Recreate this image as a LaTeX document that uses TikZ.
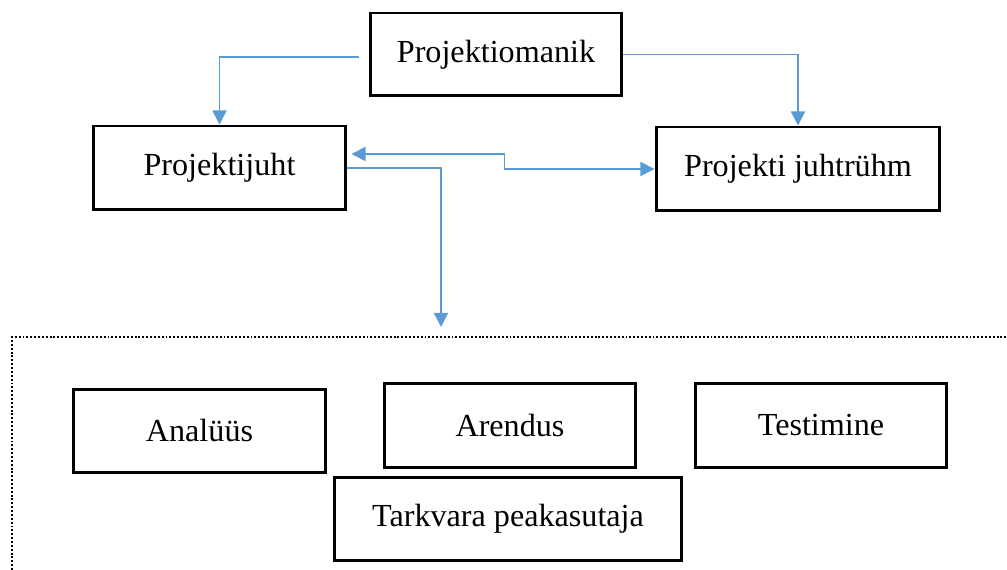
\documentclass[tikz,border=0pt]{standalone}
\usepackage{fontspec}
\setmainfont{Liberation Serif}
\usetikzlibrary{arrows.meta}
\definecolor{linkblue}{HTML}{5B9BD5}
\tikzset{
  role/.style={draw=black, line width=1.7pt, fill=white, align=center,
    font=\fontsize{18.3}{22}\selectfont, inner sep=0pt},
  conn/.style={draw=linkblue, line width=0.9pt,
    -{Triangle[length=8pt,width=8pt]}},
  group/.style={draw=black, line width=1.2pt, dash pattern=on 1.1pt off 1.1pt}
}
\begin{document}
\begin{tikzpicture}[x=0.02cm, y=-0.02cm]
\useasboundingbox (0,0) rectangle (1007,570);

% management level
\node[role, minimum width=5.04cm, minimum height=1.66cm] (pm) at (496,54.5) {Projektiomanik};
\node[role, minimum width=5.06cm, minimum height=1.68cm] (pj) at (219.5,168) {Projektijuht};
\node[role, minimum width=5.68cm, minimum height=1.68cm] (pjr) at (798,169) {Projekti juhtrühm};

% team area
\draw[group] (12,570) -- (12,337) -- (1007,337);
\coordinate (gtop) at (441,327);

\node[role, minimum width=5.06cm, minimum height=1.68cm] (an) at (199.5,431) {Analüüs};
\node[role, minimum width=5.04cm, minimum height=1.70cm] (ar) at (510,425.5) {Arendus};
\node[role, minimum width=5.04cm, minimum height=1.70cm] (te) at (821,425.5) {Testimine};
\node[role, minimum width=6.96cm, minimum height=1.68cm] (tp) at (508,519) {Tarkvara peakasutaja};

% connectors
\draw[conn] ([xshift=-0.2cm, yshift=-0.05cm]pm.west) -| (pj.north);
\draw[conn] (pm.east) -| (pjr.north);
\draw[conn, {Triangle[length=8pt,width=8pt]}-{Triangle[length=8pt,width=8pt]}]
  ([xshift=0.08cm, yshift=0.28cm]pj.east) -- ++(3.06cm,0) |- (pjr.west);
\draw[conn] (pj.east) -| (gtop);
\end{tikzpicture}
\end{document}
